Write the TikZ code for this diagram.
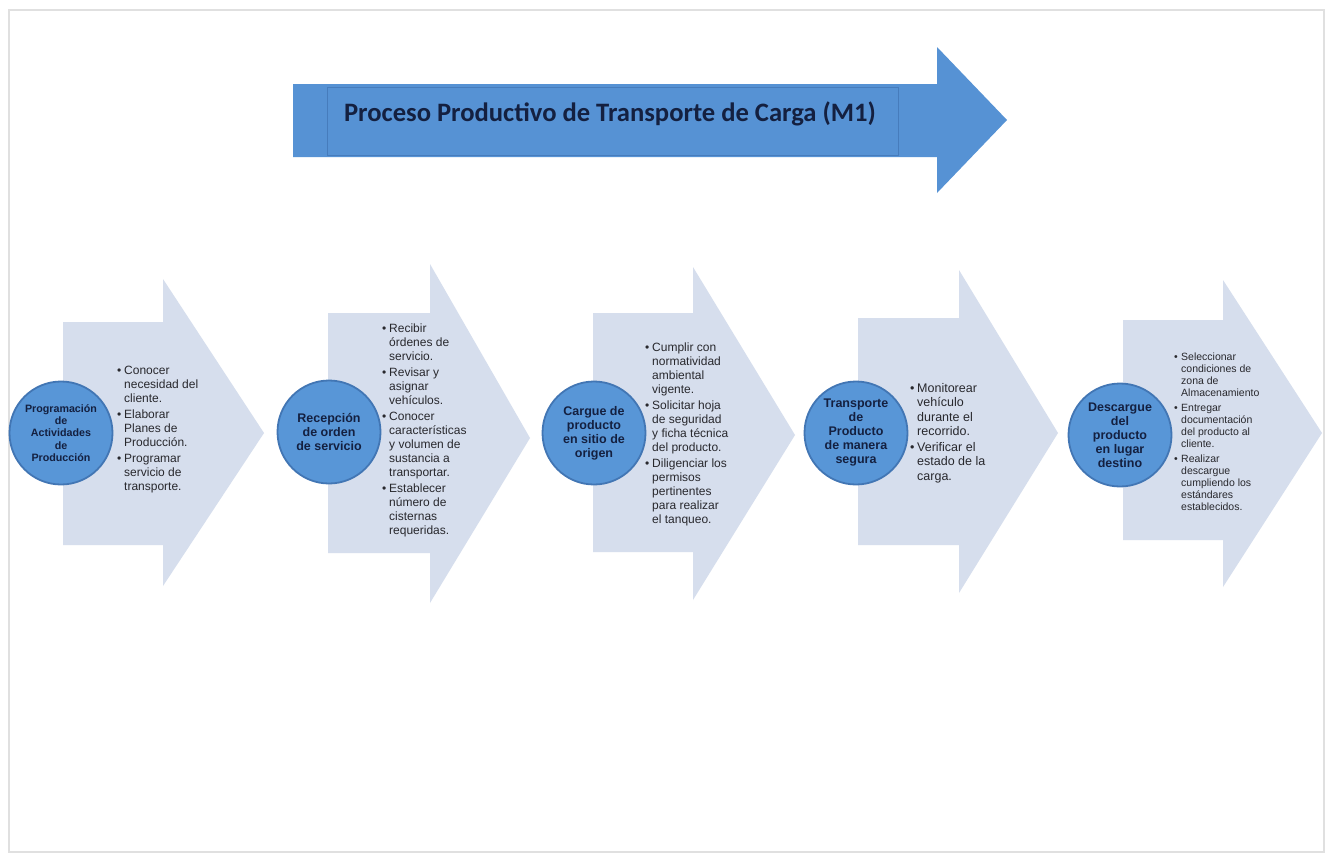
\documentclass[tikz,border=0pt]{standalone}
\usepackage{fontspec}
\setmainfont{Liberation Sans}
\newfontfamily\titlefont{Carlito}
\definecolor{arrowblue}{RGB}{86,146,212}
\definecolor{arrowedge}{RGB}{70,124,188}
\definecolor{chev}{RGB}{214,222,237}
\definecolor{circfill}{RGB}{88,150,215}
\definecolor{circedge}{RGB}{66,118,180}
\definecolor{navy}{RGB}{20,32,64}
\definecolor{bodytext}{RGB}{40,40,45}
\definecolor{framecol}{RGB}{224,224,224}
\newcommand\chevron[8]{\fill[chev] (#1,#2) -- (#4,#2) -- (#4,#5) -- (#7,#8) -- (#4,#6) -- (#4,#3) -- (#1,#3) -- cycle;}
\newcommand\bu{\makebox[7pt][l]{\textbullet}}
\newcommand\blist[1]{\begin{tabular}[t]{@{}l@{}l@{}}#1\end{tabular}}
\begin{document}
\begin{tikzpicture}[x=1pt,y=-1pt,
  stepcirc/.style={circle, fill=circfill, draw=circedge, line width=1.8pt,
    minimum size=103pt, inner sep=0pt, align=center, text=navy,
    font=\bfseries\fontsize{12.5}{14}\selectfont},
  bultext/.style={anchor=base west, inner sep=0pt, text=bodytext,
    font=\fontsize{12}{14}\selectfont},
  ]
\useasboundingbox (0,0) rectangle (1330,855);
\fill[white] (0,0) rectangle (1330,855);
\draw[framecol, line width=2.8pt] (9,10) rectangle (1324,852);

% title arrow
\fill[arrowblue] (293,84) -- (937,84) -- (937,47) -- (1007,120) -- (937,193) -- (937,157) -- (293,157) -- cycle;
\node[draw=arrowedge, line width=0.6pt, fill=arrowblue, minimum width=571pt, minimum height=68pt, inner sep=0pt] (titlebox) at (612.5,121) {};
\node[anchor=base, inner sep=0pt, text=navy, font=\titlefont\bfseries\fontsize{26.6}{30}\selectfont] (title) at (610,121) {Proceso Productivo de Transporte de Carga (M1)};

% chevrons
\chevron{63}{322}{545}{163}{279}{586}{264}{433}
\chevron{328}{313}{553}{430}{264}{603}{530}{438}
\chevron{593}{313}{552}{693}{267}{600}{795}{435}
\chevron{858}{318}{545}{959}{270}{593}{1058}{433}
\chevron{1123}{320}{540}{1223}{280}{587}{1322}{433}

% circles
\node[stepcirc, font=\bfseries\fontsize{10.7}{12.3}\selectfont] (c1) at (61,433) {Programación\\de\\Actividades\\de\\Producción};
\node[stepcirc] (c2) at (329,432) {Recepción\\de orden\\de servicio};
\node[stepcirc] (c3) at (594,433) {Cargue de\\producto\\en sitio de\\origen};
\node[stepcirc] (c4) at (856,433) {Transporte\\de\\Producto\\de manera\\segura};
\node[stepcirc] (c5) at (1120,435) {Descargue\\del\\producto\\en lugar\\destino};

% bullet texts
\node[bultext] (t1) at (117,374) {\blist{\bu&Conocer\\&necesidad del\\&cliente.\\[2pt]
\bu&Elaborar\\&Planes de\\&Producción.\\[2pt]
\bu&Programar\\&servicio de\\&transporte.}};
\node[bultext] (t2) at (382,332) {\blist{\bu&Recibir\\&órdenes de\\&servicio.\\[2pt]
\bu&Revisar y\\&asignar\\&vehículos.\\[2pt]
\bu&Conocer\\&características\\&y volumen de\\&sustancia a\\&transportar.\\[2pt]
\bu&Establecer\\&número de\\&cisternas\\&requeridas.}};
\node[bultext] (t3) at (645,351) {\blist{\bu&Cumplir con\\&normatividad\\&ambiental\\&vigente.\\[2pt]
\bu&Solicitar hoja\\&de seguridad\\&y ficha técnica\\&del producto.\\[2pt]
\bu&Diligenciar los\\&permisos\\&pertinentes\\&para realizar\\&el tanqueo.}};
\node[bultext, font=\fontsize{12.5}{14.5}\selectfont] (t4) at (910,392) {\blist{\bu&Monitorear\\&vehículo\\&durante el\\&recorrido.\\[1pt]
\bu&Verificar el\\&estado de la\\&carga.}};
\node[bultext, font=\fontsize{10.5}{12}\selectfont] (t5) at (1174,360) {\blist{\bu&Seleccionar\\&condiciones de\\&zona de\\&Almacenamiento\\[3pt]
\bu&Entregar\\&documentación\\&del producto al\\&cliente.\\[3pt]
\bu&Realizar\\&descargue\\&cumpliendo los\\&estándares\\&establecidos.}};
\end{tikzpicture}
\end{document}
